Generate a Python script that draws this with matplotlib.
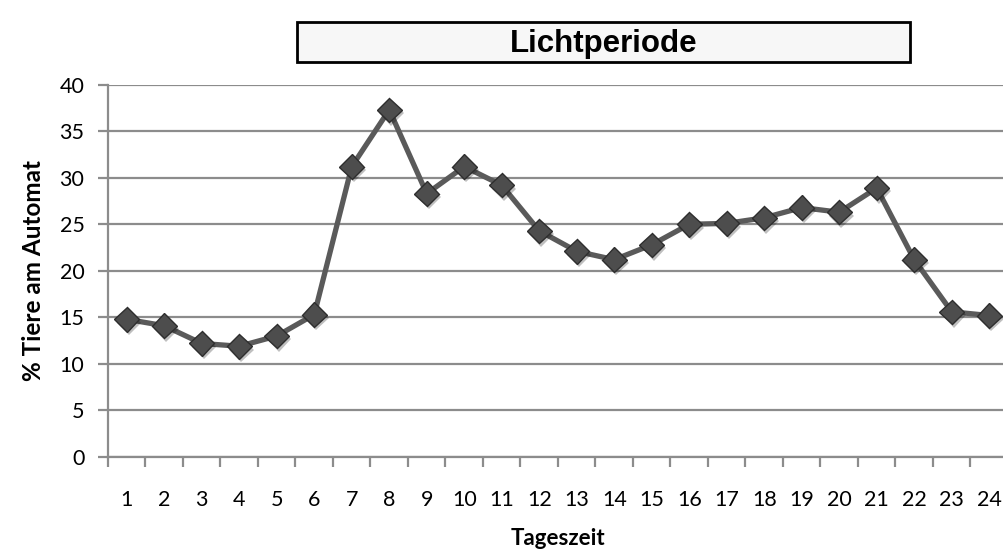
#!/usr/bin/env python3

import numpy as np
import matplotlib
matplotlib.use('Agg')
import matplotlib.pyplot as plt
import matplotlib.patheffects as pe
from matplotlib.patches import Rectangle

# share of animals at the feeder per hour of the day
hours = list(range(1, 25))
share = [14.8, 14.1, 12.2, 11.9, 13.0, 15.3, 31.2, 37.3, 28.3, 31.2, 29.2, 24.3,
         22.1, 21.2, 22.8, 25.0, 25.1, 25.7, 26.8, 26.3, 28.9, 21.2, 15.6, 15.2]
hour_labels = [str(h) for h in hours]
y_ticks = [0, 5, 10, 15, 20, 25, 30, 35, 40]

title = "Lichtperiode"
x_title = "Tageszeit"
y_title = "% Tiere am Automat"

GRID = '#8c8c8c'

#------------------------------------------------------------
fig = plt.figure(figsize=(10.04, 5.5), dpi=100)
ax = fig.add_axes([108 / 1004, 93 / 550, 900 / 1004, 372.3 / 550])

ax.set_xlim(0.5, 24.5)
ax.set_ylim(0, 40)
ax.set_yticks(y_ticks)
ax.yaxis.grid(True, color=GRID, linewidth=1.6)
ax.set_axisbelow(True)

# category ticks sit on the boundaries between hours, labels in the middle
ax.set_xticks(np.arange(0.5, 25, 1.0))
ax.set_xticklabels([])
ax.set_xticks(hours, minor=True)
ax.set_xticklabels(hour_labels, minor=True)
ax.tick_params(axis='x', which='major', length=7, width=1.6, color=GRID, direction='out')
ax.tick_params(axis='x', which='minor', length=0, pad=24, labelsize=15.5)
ax.tick_params(axis='y', length=7, width=1.6, color=GRID, pad=10, labelsize=15.5)

for s in ['top', 'right']:
    ax.spines[s].set_visible(False)
for s in ['left', 'bottom']:
    ax.spines[s].set_color(GRID)
    ax.spines[s].set_linewidth(1.6)

ax.plot(hours, share, color='#5a5a5a', linewidth=3.8, zorder=3, clip_on=False)
ax.plot(hours, share, linestyle='None', marker='D', markersize=12.5,
        markerfacecolor='#4d4d4d', markeredgecolor='#2e2e2e', markeredgewidth=1.0,
        zorder=4, clip_on=False,
        path_effects=[pe.SimplePatchShadow(offset=(1.5, -2.5), shadow_rgbFace='#000000', alpha=0.25),
                      pe.Normal()])

ax.set_xlabel(x_title, fontsize=16, fontweight='bold', labelpad=12.5)
ax.set_ylabel(y_title, fontsize=17.5, fontweight='bold', labelpad=10)

# boxed title above the plot area
fig.patches.append(Rectangle((297 / 1004, 1 - 62 / 550), 613 / 1004, 40 / 550,
                             transform=fig.transFigure, facecolor='#f7f7f7',
                             edgecolor='black', linewidth=2))
fig.text(603.5 / 1004, 1 - 44 / 550, title, ha='center', va='center',
         fontsize=22.5, fontweight='bold', family='Liberation Sans')

for t in ax.get_xticklabels(minor=True) + ax.get_yticklabels():
    t.set_family('Lato')
ax.xaxis.label.set_family('Lato')
ax.yaxis.label.set_family('Lato')

plt.savefig("out.png", dpi=100)
